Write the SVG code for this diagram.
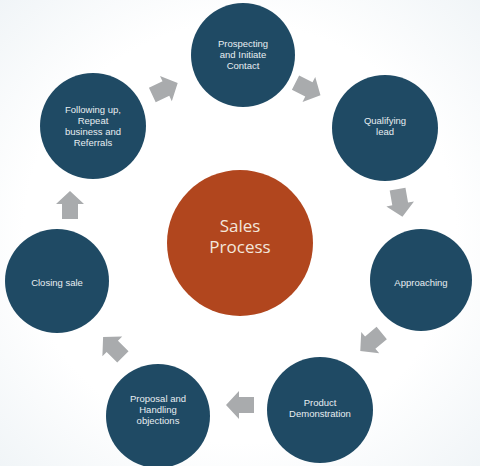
<svg xmlns="http://www.w3.org/2000/svg" width="480" height="466" viewBox="0 0 480 466">
<defs>
<style>
.step{fill:#1f4a64}
.core{fill:#b1461e}
.lbl{font-family:"Liberation Sans","DejaVu Sans",sans-serif;font-size:9.5px;fill:#e8eef2;text-anchor:middle}
.big{font-family:"Open Sans","Liberation Sans",sans-serif;font-size:17px;fill:#f3e6dc;text-anchor:middle}
.arr{fill:#a9abad}
</style>
<radialGradient id="bg" cx="0.5" cy="0.5" r="0.75">
<stop offset="0.6" stop-color="#ffffff"/>
<stop offset="1" stop-color="#eef3f6"/>
</radialGradient>
<polygon id="ar" points="-14,-8 1,-8 1,-14 14,0 1,14 1,8 -14,8"/>
</defs>
<rect width="480" height="466" fill="url(#bg)"/>
<g id="connectors" class="arr">
<use href="#ar" transform="translate(165,89) rotate(-25)"/>
<use href="#ar" transform="translate(308,89) rotate(27)"/>
<use href="#ar" transform="translate(400,203) rotate(80)"/>
<use href="#ar" transform="translate(371,342) rotate(140)"/>
<use href="#ar" transform="translate(240,405) rotate(180)"/>
<use href="#ar" transform="translate(113,347) rotate(-135)"/>
<use href="#ar" transform="translate(70,205) rotate(-90)"/>
</g>
<g id="center">
<circle class="core" cx="240" cy="243" r="73"/>
<text class="big" x="240" y="232">Sales</text>
<text class="big" x="240" y="253">Process</text>
</g>
<g id="prospecting">
<circle class="step" cx="243" cy="55" r="52"/>
<text class="lbl" x="243" y="47">Prospecting</text>
<text class="lbl" x="243" y="58">and Initiate</text>
<text class="lbl" x="243" y="69">Contact</text>
</g>
<g id="qualifying">
<circle class="step" cx="385" cy="128" r="53"/>
<text class="lbl" x="385" y="124">Qualifying</text>
<text class="lbl" x="385" y="135">lead</text>
</g>
<g id="approaching">
<circle class="step" cx="421" cy="280" r="51"/>
<text class="lbl" x="421" y="286">Approaching</text>
</g>
<g id="demo">
<circle class="step" cx="320" cy="410" r="53"/>
<text class="lbl" x="320" y="406">Product</text>
<text class="lbl" x="320" y="417">Demonstration</text>
</g>
<g id="proposal">
<circle class="step" cx="158" cy="416" r="52"/>
<text class="lbl" x="158" y="402">Proposal and</text>
<text class="lbl" x="158" y="413">Handling</text>
<text class="lbl" x="158" y="424">objections</text>
</g>
<g id="closing">
<circle class="step" cx="57" cy="281" r="52"/>
<text class="lbl" x="57" y="286">Closing sale</text>
</g>
<g id="following">
<circle class="step" cx="93" cy="126" r="53"/>
<text class="lbl" x="93" y="113">Following up,</text>
<text class="lbl" x="93" y="124">Repeat</text>
<text class="lbl" x="93" y="135">business and</text>
<text class="lbl" x="93" y="146">Referrals</text>
</g>
</svg>
